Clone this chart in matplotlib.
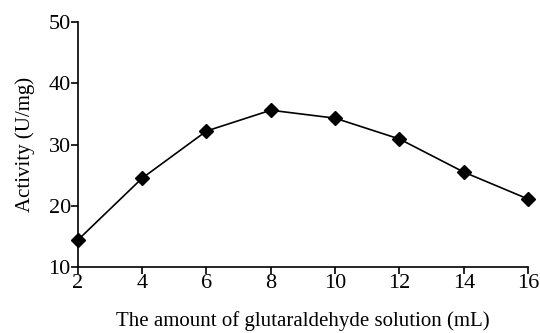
import matplotlib
matplotlib.use("Agg")
import matplotlib.pyplot as plt

volume = [2, 4, 6, 8, 10, 12, 14, 16]
activity = [14.4, 24.5, 32.2, 35.6, 34.3, 30.9, 25.5, 21.1]

plt.rcParams['font.family'] = ['Liberation Serif', 'DejaVu Serif']

fig = plt.figure(figsize=(5.4, 3.33), dpi=100)
ax = fig.add_axes([0.144, 0.198, 0.834, 0.736])
ax.plot(volume, activity, color='black', linewidth=1.2,
        marker='D', markersize=7, markerfacecolor='black', clip_on=False)

ax.set_xlim(2, 16)
ax.set_ylim(10, 50)
ax.set_xticks(range(2, 17, 2))
ax.set_yticks(range(10, 51, 10))
ax.spines['top'].set_visible(False)
ax.spines['right'].set_visible(False)
for s in ('left', 'bottom'):
    ax.spines[s].set_linewidth(1.2)
ax.tick_params(direction='out', length=5, width=1.2, labelsize=16, pad=0)
ax.set_xlabel('The amount of glutaraldehyde solution (mL)', fontsize=15, labelpad=13)
ax.set_ylabel('Activity (U/mg)', fontsize=15, labelpad=10)

fig.savefig('out.png', dpi=100)
